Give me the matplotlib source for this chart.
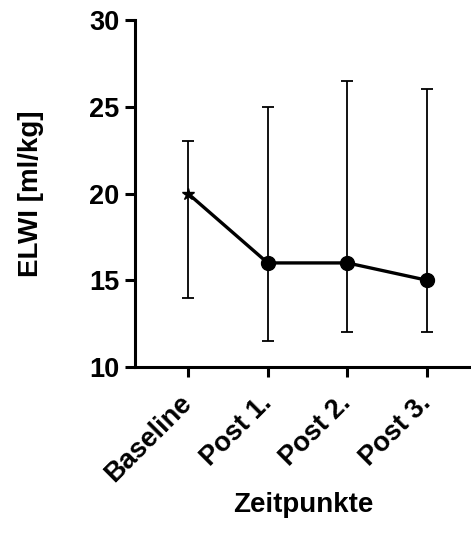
import matplotlib.pyplot as plt
import matplotlib.transforms as mtransforms
import numpy as np

plt.rcParams['font.family'] = ['Liberation Sans', 'DejaVu Sans']
plt.rcParams['font.weight'] = 'bold'

zeitpunkte = ['Baseline', 'Post 1.', 'Post 2.', 'Post 3.']
elwi = [20, 16, 16, 15]
elwi_low = [14, 11.5, 12, 12]
elwi_high = [23, 25, 26.5, 26]

x = np.arange(len(zeitpunkte))
y = np.array(elwi)
yerr = [y - np.array(elwi_low), np.array(elwi_high) - y]

fig = plt.figure(figsize=(4.71, 5.33), dpi=100)
ax = fig.add_axes([0.2866, 0.3114, 0.7134, 0.651])

ax.errorbar(x, y, yerr=yerr, fmt='none', ecolor='black', elinewidth=1.3,
            capsize=4.5, capthick=1.3, zorder=2)
ax.plot(x, y, color='black', linewidth=2.4, zorder=3)
ax.plot(x[0], y[0], marker='*', color='black', markersize=9, linestyle='none', zorder=4)
ax.plot(x[1:], y[1:], marker='o', color='black', markersize=10, linestyle='none', zorder=4)

ax.set_xlim(-0.665, 3.55)
ax.set_ylim(10, 30)
ax.set_yticks([10, 15, 20, 25, 30])
ax.set_xticks(x)
ax.set_xticklabels(zeitpunkte, rotation=45, ha='right', va='center', rotation_mode='anchor')

# nudge the rotated labels a little to the right, like the reference
offset = mtransforms.ScaledTranslation(5 / 100, 2 / 100, fig.dpi_scale_trans)
for lbl in ax.get_xticklabels():
    lbl.set_transform(lbl.get_transform() + offset)

for s in ['top', 'right']:
    ax.spines[s].set_visible(False)
for s in ['left', 'bottom']:
    ax.spines[s].set_linewidth(2.2)
ax.tick_params(axis='both', width=2.2, length=7, labelsize=19.5)
ax.tick_params(axis='y', pad=4)
ax.tick_params(axis='x', pad=16)

ax.set_ylabel('ELWI [ml/kg]', fontsize=20, fontweight='bold', labelpad=33)
ax.set_xlabel('Zeitpunkte', fontsize=20, fontweight='bold', labelpad=4)

fig.savefig('out.png', dpi=100)
plt.close(fig)
